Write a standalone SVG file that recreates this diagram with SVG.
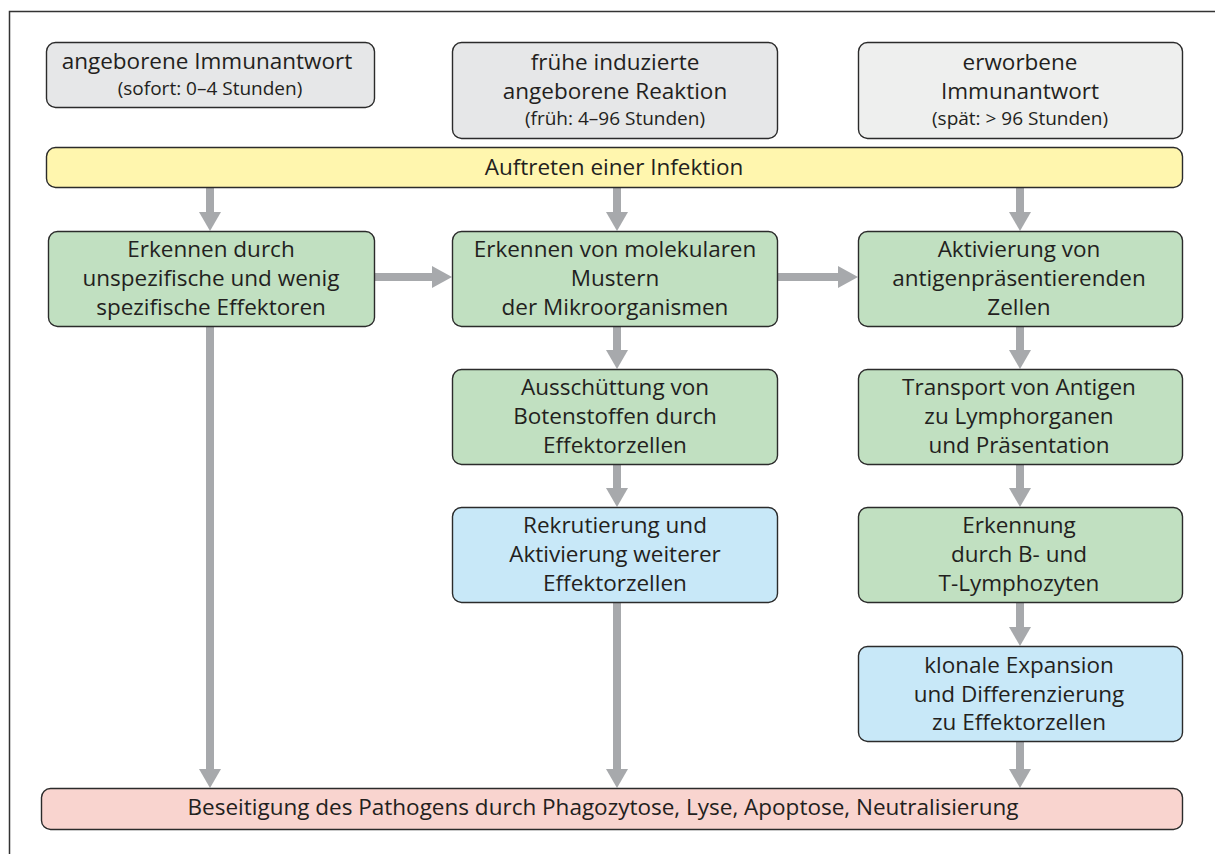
<svg xmlns="http://www.w3.org/2000/svg" width="1215" height="854" viewBox="0 0 1215 854">
<defs>
<style>
.box{stroke:#2b2b2b;stroke-width:1.4}
.gray{fill:#e6e7e8}
.gray2{fill:#eeefee}
.yellow{fill:#fff6ae}
.green{fill:#c1e0c1}
.blue{fill:#c8e8f8}
.pink{fill:#f9d4cf}
text{font-family:"Open Sans","Noto Sans","Liberation Sans",sans-serif;fill:#231f20;text-anchor:middle}
.t{font-size:22.5px}
.s{font-size:19px}
.conn line{stroke:#a7a9ac;stroke-width:8}
.conn polygon{fill:#a7a9ac}
</style>
</defs>
<rect width="1215" height="854" fill="#fff"/>
<path d="M9.5 854 V11.5 H1215" fill="none" stroke="#333" stroke-width="1.5"/>

<g id="connectors" class="conn">
  <line x1="210" y1="187" x2="210" y2="213"/><polygon points="199,212 221,212 210,231"/>
  <line x1="617" y1="187" x2="617" y2="213"/><polygon points="606,212 628,212 617,231"/>
  <line x1="1020" y1="187" x2="1020" y2="213"/><polygon points="1009,212 1031,212 1020,231"/>
  <line x1="374" y1="277" x2="433" y2="277"/><polygon points="432,266 432,288 452,277"/>
  <line x1="777" y1="277" x2="839" y2="277"/><polygon points="838,266 838,288 858,277"/>
  <line x1="210" y1="326" x2="210" y2="770"/><polygon points="199,769 221,769 210,788"/>
  <line x1="617" y1="326" x2="617" y2="351"/><polygon points="606,350 628,350 617,369"/>
  <line x1="617" y1="464" x2="617" y2="489"/><polygon points="606,488 628,488 617,507"/>
  <line x1="617" y1="603" x2="617" y2="770"/><polygon points="606,769 628,769 617,788"/>
  <line x1="1020" y1="326" x2="1020" y2="351"/><polygon points="1009,350 1031,350 1020,369"/>
  <line x1="1020" y1="464" x2="1020" y2="489"/><polygon points="1009,488 1031,488 1020,507"/>
  <line x1="1020" y1="603" x2="1020" y2="628"/><polygon points="1009,627 1031,627 1020,646"/>
  <line x1="1020" y1="741" x2="1020" y2="770"/><polygon points="1009,769 1031,769 1020,788"/>
</g>

<g id="h1">
  <rect class="box gray" x="46.5" y="42.5" width="328" height="65" rx="9"/>
  <text class="t" x="207" y="69">angeborene Immunantwort</text>
  <text class="s" x="210" y="95">(sofort: 0–4 Stunden)</text>
</g>
<g id="h2">
  <rect class="box gray" x="452.5" y="42.5" width="325" height="96" rx="9"/>
  <text class="t" x="615" y="70">frühe induzierte</text>
  <text class="t" x="615" y="99">angeborene Reaktion</text>
  <text class="s" x="615" y="125">(früh: 4–96 Stunden)</text>
</g>
<g id="h3">
  <rect class="box gray2" x="858.5" y="42.5" width="324" height="96" rx="9"/>
  <text class="t" x="1020" y="70">erworbene</text>
  <text class="t" x="1020" y="99">Immunantwort</text>
  <text class="s" x="1020" y="125">(spät: &gt; 96 Stunden)</text>
</g>
<g id="infection">
  <rect class="box yellow" x="46.5" y="147.5" width="1136" height="40" rx="9"/>
  <text class="t" x="614" y="175">Auftreten einer Infektion</text>
</g>
<g id="g1">
  <rect class="box green" x="48.5" y="231.5" width="326" height="95" rx="9"/>
  <text class="t" x="211" y="257">Erkennen durch</text>
  <text class="t" x="211" y="286">unspezifische und wenig</text>
  <text class="t" x="211" y="315">spezifische Effektoren</text>
</g>
<g id="g2">
  <rect class="box green" x="452.5" y="231.5" width="325" height="95" rx="9"/>
  <text class="t" x="615" y="257">Erkennen von molekularen</text>
  <text class="t" x="615" y="286">Mustern</text>
  <text class="t" x="615" y="315">der Mikroorganismen</text>
</g>
<g id="g3">
  <rect class="box green" x="858.5" y="231.5" width="324" height="95" rx="9"/>
  <text class="t" x="1019" y="257">Aktivierung von</text>
  <text class="t" x="1019" y="286">antigenpräsentierenden</text>
  <text class="t" x="1019" y="315">Zellen</text>
</g>
<g id="m2">
  <rect class="box green" x="452.5" y="369.5" width="325" height="95" rx="9"/>
  <text class="t" x="615" y="395">Ausschüttung von</text>
  <text class="t" x="615" y="424">Botenstoffen durch</text>
  <text class="t" x="615" y="453">Effektorzellen</text>
</g>
<g id="r2">
  <rect class="box green" x="858.5" y="369.5" width="324" height="95" rx="9"/>
  <text class="t" x="1019" y="395">Transport von Antigen</text>
  <text class="t" x="1019" y="424">zu Lymphorganen</text>
  <text class="t" x="1019" y="453">und Präsentation</text>
</g>
<g id="m3">
  <rect class="box blue" x="452.5" y="507.5" width="325" height="95" rx="9"/>
  <text class="t" x="615" y="533">Rekrutierung und</text>
  <text class="t" x="615" y="562">Aktivierung weiterer</text>
  <text class="t" x="615" y="591">Effektorzellen</text>
</g>
<g id="r3">
  <rect class="box green" x="858.5" y="507.5" width="324" height="95" rx="9"/>
  <text class="t" x="1019" y="533">Erkennung</text>
  <text class="t" x="1019" y="562">durch B- und</text>
  <text class="t" x="1019" y="591">T-Lymphozyten</text>
</g>
<g id="r4">
  <rect class="box blue" x="858.5" y="646.5" width="324" height="95" rx="9"/>
  <text class="t" x="1019" y="673">klonale Expansion</text>
  <text class="t" x="1019" y="702">und Differenzierung</text>
  <text class="t" x="1019" y="730">zu Effektorzellen</text>
</g>
<g id="result">
  <rect class="box pink" x="41.5" y="788.5" width="1141" height="41" rx="9"/>
  <text class="t" x="603" y="815">Beseitigung des Pathogens durch Phagozytose, Lyse, Apoptose, Neutralisierung</text>
</g>
</svg>
